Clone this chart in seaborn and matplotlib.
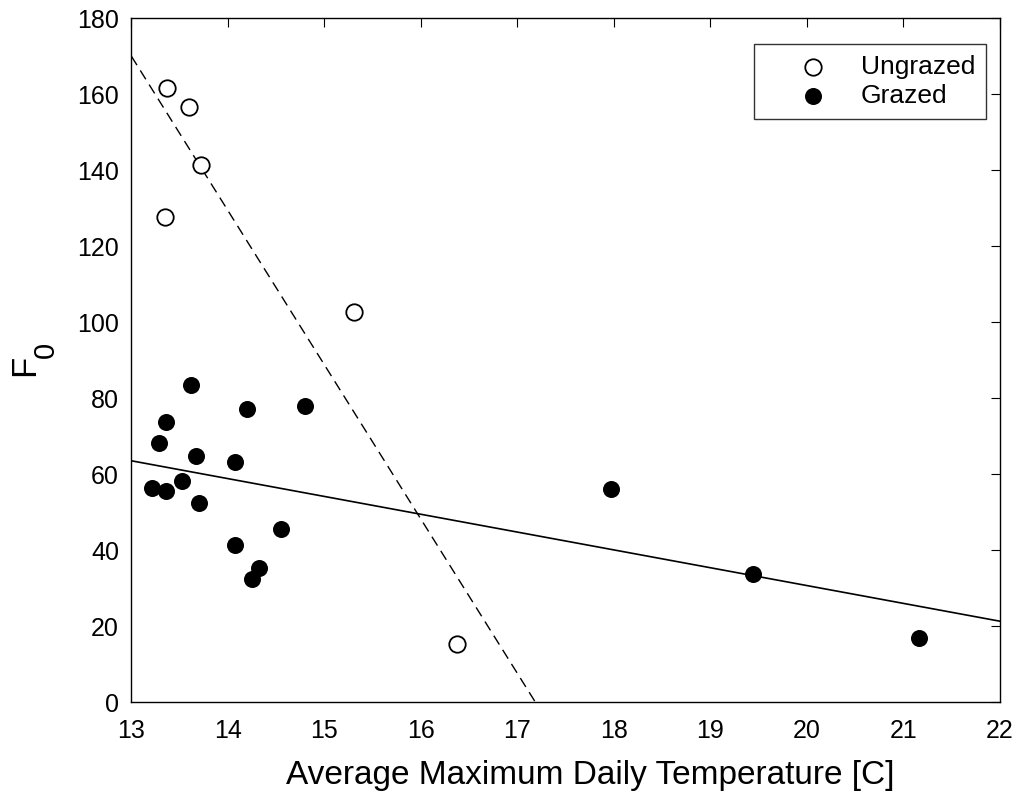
"""F0 vs average maximum daily temperature, grazed and ungrazed plots"""

import numpy as np
import pandas as pd
import seaborn as sns
import matplotlib.pyplot as plt

# ungrazed sites (open circles)
ungrazed_temp = [13.37, 13.60, 13.72, 13.35, 15.31, 16.37]
ungrazed_f0 = [161.7, 156.6, 141.5, 127.6, 102.7, 15.3]

# grazed sites (filled circles)
grazed_temp = [13.62, 14.20, 14.80, 13.36, 13.29, 13.67, 14.07, 13.21, 13.36,
               13.52, 13.70, 14.55, 14.07, 14.32, 14.25, 17.97, 19.44, 21.16]
grazed_f0 = [83.4, 77.1, 78.0, 73.8, 68.2, 64.9, 63.2, 56.5, 55.6,
             58.2, 52.3, 45.6, 41.4, 35.2, 32.3, 56.1, 33.7, 16.9]

# linear fits (slope, intercept)
ungrazed_fit = (-40.6, 697.8)
grazed_fit = (-4.69, 124.5)

x_ticks = list(range(13, 23))
y_ticks = list(range(0, 181, 20))

df_u = pd.DataFrame({"temp": ungrazed_temp, "f0": ungrazed_f0})
df_g = pd.DataFrame({"temp": grazed_temp, "f0": grazed_f0})

sns.set_style("white")
plt.rcParams["font.family"] = ["Liberation Sans", "DejaVu Sans"]
plt.rcParams["text.color"] = "black"
plt.rcParams["axes.labelcolor"] = "black"

fig = plt.figure(figsize=(10.19, 7.97), dpi=100)
ax = fig.add_axes([0.129, 0.119, 0.852, 0.858])

# fit lines over the full x range, clipped by the axes
xs = np.array([13.0, 22.0])
ax.plot(xs, ungrazed_fit[0] * xs + ungrazed_fit[1], color="black", lw=1.0,
        ls=(0, (7.5, 4.5)), zorder=1)
ax.plot(xs, grazed_fit[0] * xs + grazed_fit[1], color="black", lw=1.2, zorder=1)

sns.scatterplot(data=df_u, x="temp", y="f0", ax=ax, s=140, facecolor="white",
                edgecolor="black", linewidth=1.3, label="Ungrazed", zorder=3)
sns.scatterplot(data=df_g, x="temp", y="f0", ax=ax, s=150, color="black",
                edgecolor="black", linewidth=0, label="Grazed", zorder=3)

ax.set_xlim(13, 22)
ax.set_ylim(0, 180)
ax.set_xticks(x_ticks)
ax.set_yticks(y_ticks)
ax.tick_params(direction="in", length=6.5, width=0.8, top=True, right=True,
               labelsize=18, colors="black")
ax.tick_params(axis="x", pad=12)
ax.tick_params(axis="y", pad=9)
for s in ax.spines.values():
    s.set_visible(True)
    s.set_color("black")
    s.set_linewidth(1.0)

ax.set_xlabel("Average Maximum Daily Temperature [C]", fontsize=24)
ax.xaxis.set_label_coords(0.529, -0.085)
ax.set_ylabel("")
# y label F with a large, low subscript 0
fig.text(24.5 / 1019, 1 - 365.5 / 797, "F", rotation=90, fontsize=25,
         ha="center", va="center")
fig.text(46 / 1019, 1 - 350 / 797, "0", rotation=90, fontsize=21,
         ha="center", va="center")

leg = ax.legend(loc="upper right", bbox_to_anchor=(0.984, 0.962),
                borderaxespad=0, fontsize=19, frameon=True, fancybox=False,
                edgecolor="black", borderpad=0.4, handlelength=3.65,
                handletextpad=0.0, labelspacing=0.2, markerscale=1.0)
leg.get_frame().set_linewidth(1.0)

plt.savefig("out.png", dpi=100)
plt.close()
